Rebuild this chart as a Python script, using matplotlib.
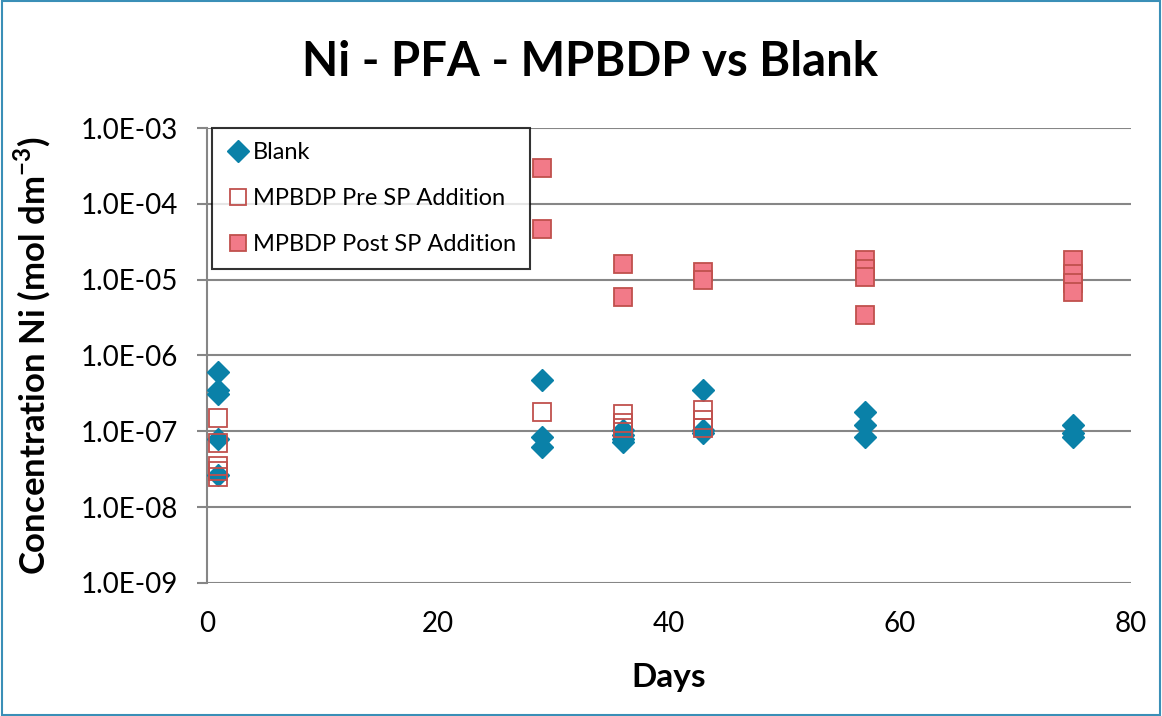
import numpy as np
import matplotlib.pyplot as plt
from matplotlib.patches import Rectangle

plt.rcParams['font.family'] = ['Lato', 'DejaVu Sans']
plt.rcParams['mathtext.fontset'] = 'custom'
plt.rcParams['mathtext.rm'] = 'Lato'
plt.rcParams['mathtext.bf'] = 'Lato:bold'

# data
blank_days = [1, 1, 1, 1, 1, 29, 29, 29, 36, 36, 36, 36, 43, 43, 43, 57, 57, 57, 75, 75, 75]
blank_conc = [6.1e-7, 3.5e-7, 3.1e-7, 8.0e-8, 2.65e-8,
              4.8e-7, 8.5e-8, 6.2e-8,
              1.05e-7, 9.0e-8, 8.0e-8, 7.2e-8,
              3.5e-7, 1.05e-7, 9.5e-8,
              1.8e-7, 1.2e-7, 8.5e-8,
              1.2e-7, 9.5e-8, 8.5e-8]

pre_days = [1, 1, 1, 1, 1, 29, 36, 36, 36, 43, 43, 43]
pre_conc = [1.5e-7, 7.0e-8, 3.5e-8, 3.0e-8, 2.5e-8,
            1.8e-7,
            1.7e-7, 1.3e-7, 1.1e-7,
            1.9e-7, 1.4e-7, 1.1e-7]

post_days = [29, 29, 36, 36, 43, 43, 57, 57, 57, 57, 75, 75, 75, 75]
post_conc = [3.0e-4, 4.7e-5,
             1.6e-5, 6.0e-6,
             1.25e-5, 1.0e-5,
             1.8e-5, 1.4e-5, 1.1e-5, 3.4e-6,
             1.8e-5, 1.2e-5, 9.0e-6, 6.8e-6]

yticks = [1e-9, 1e-8, 1e-7, 1e-6, 1e-5, 1e-4, 1e-3]
ytick_labels = ['1.0E-09', '1.0E-08', '1.0E-07', '1.0E-06', '1.0E-05', '1.0E-04', '1.0E-03']

blue = '#0A81A8'
red_edge = '#C0504D'
pink = '#F27A88'

fig = plt.figure(figsize=(11.62, 7.16), dpi=100)
ax = fig.add_axes([0.178, 0.186, 0.795, 0.635])

ax.plot(blank_days, blank_conc, 'D', color=blue, ms=11.5, mec=blue, label='Blank', zorder=3)
ax.plot(pre_days, pre_conc, 's', mfc='none', mec=red_edge, mew=1.3, ms=13.5,
        label='MPBDP Pre SP Addition', zorder=4)
ax.plot(post_days, post_conc, 's', mfc=pink, mec=red_edge, mew=1.3, ms=13.5,
        label='MPBDP Post SP Addition', zorder=4)

ax.set_yscale('log')
ax.set_ylim(1e-9, 1e-3)
ax.set_xlim(0, 80)
ax.set_yticks(yticks)
ax.set_yticklabels(ytick_labels)
ax.yaxis.set_minor_locator(plt.NullLocator())
ax.set_xticks([0, 20, 40, 60, 80])
ax.tick_params(axis='x', labelsize=20, length=0, pad=20)
ax.tick_params(axis='y', labelsize=20, length=7, direction='out', color='#868686',
               width=1.5, pad=14)
ax.grid(axis='y', color='#868686', lw=1.5)
for s in ['top', 'right', 'bottom']:
    ax.spines[s].set_visible(False)
ax.spines['left'].set_color('#868686')
ax.spines['left'].set_linewidth(1.5)

ax.set_xlabel('Days', fontsize=24, fontweight='bold', labelpad=19)
ax.set_ylabel('Concentration Ni (mol dm$^{\\mathbf{-3}}$)', fontsize=25, fontweight='bold', labelpad=20)
fig.suptitle('Ni - PFA - MPBDP vs Blank', fontsize=34, fontweight='bold', x=0.508, y=0.944)

leg = ax.legend(loc='upper left', bbox_to_anchor=(0.006, 1.0), fontsize=17, frameon=True,
                fancybox=False, edgecolor='black', handletextpad=0.1, borderpad=0.6,
                labelspacing=1.05, handlelength=1.0, borderaxespad=0)
leg.get_frame().set_linewidth(1.5)
for h in leg.legend_handles:
    h.set_markersize(11)

fig.patches.append(Rectangle((0.002, 0.002), 0.996, 0.996, transform=fig.transFigure,
                             fill=False, edgecolor='#3A8FB7', lw=1.5))

fig.savefig('out.png', dpi=100)
